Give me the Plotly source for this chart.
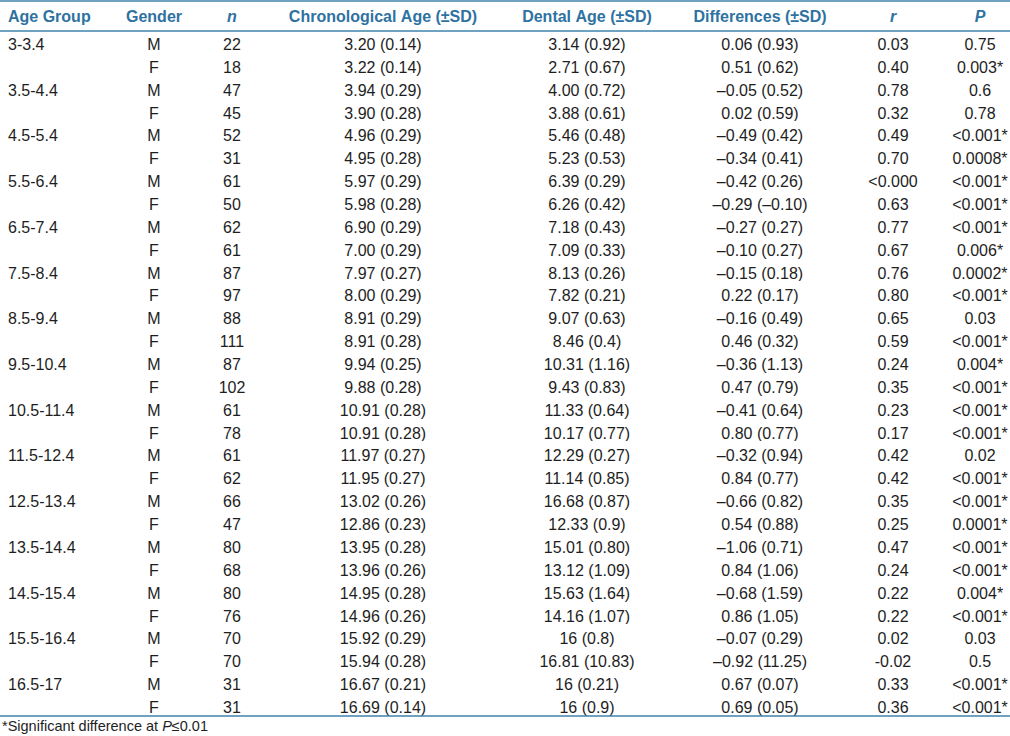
import plotly.graph_objects as go

headers = ["Age Group", "Gender", "n", "Chronological Age (±SD)", "Dental Age (±SD)",
           "Differences (±SD)", "r", "P"]
header_styles = ["normal", "normal", "italic", "normal", "normal", "normal", "italic", "italic"]

age_groups = ["3-3.4", "3.5-4.4", "4.5-5.4", "5.5-6.4", "6.5-7.4", "7.5-8.4", "8.5-9.4",
              "9.5-10.4", "10.5-11.4", "11.5-12.4", "12.5-13.4", "13.5-14.4", "14.5-15.4",
              "15.5-16.4", "16.5-17"]
genders = ["M", "F"]

n_vals = [22, 18, 47, 45, 52, 31, 61, 50, 62, 61, 87, 97, 88, 111, 87, 102, 61, 78, 61, 62,
          66, 47, 80, 68, 80, 76, 70, 70, 31, 31]

chrono_age = ["3.20 (0.14)", "3.22 (0.14)", "3.94 (0.29)", "3.90 (0.28)", "4.96 (0.29)",
              "4.95 (0.28)", "5.97 (0.29)", "5.98 (0.28)", "6.90 (0.29)", "7.00 (0.29)",
              "7.97 (0.27)", "8.00 (0.29)", "8.91 (0.29)", "8.91 (0.28)", "9.94 (0.25)",
              "9.88 (0.28)", "10.91 (0.28)", "10.91 (0.28)", "11.97 (0.27)", "11.95 (0.27)",
              "13.02 (0.26)", "12.86 (0.23)", "13.95 (0.28)", "13.96 (0.26)", "14.95 (0.28)",
              "14.96 (0.26)", "15.92 (0.29)", "15.94 (0.28)", "16.67 (0.21)", "16.69 (0.14)"]

dental_age = ["3.14 (0.92)", "2.71 (0.67)", "4.00 (0.72)", "3.88 (0.61)", "5.46 (0.48)",
              "5.23 (0.53)", "6.39 (0.29)", "6.26 (0.42)", "7.18 (0.43)", "7.09 (0.33)",
              "8.13 (0.26)", "7.82 (0.21)", "9.07 (0.63)", "8.46 (0.4)", "10.31 (1.16)",
              "9.43 (0.83)", "11.33 (0.64)", "10.17 (0.77)", "12.29 (0.27)", "11.14 (0.85)",
              "16.68 (0.87)", "12.33 (0.9)", "15.01 (0.80)", "13.12 (1.09)", "15.63 (1.64)",
              "14.16 (1.07)", "16 (0.8)", "16.81 (10.83)", "16 (0.21)", "16 (0.9)"]

differences = ["0.06 (0.93)", "0.51 (0.62)", "–0.05 (0.52)", "0.02 (0.59)", "–0.49 (0.42)",
               "–0.34 (0.41)", "–0.42 (0.26)", "–0.29 (–0.10)", "–0.27 (0.27)", "–0.10 (0.27)",
               "–0.15 (0.18)", "0.22 (0.17)", "–0.16 (0.49)", "0.46 (0.32)", "–0.36 (1.13)",
               "0.47 (0.79)", "–0.41 (0.64)", "0.80 (0.77)", "–0.32 (0.94)", "0.84 (0.77)",
               "–0.66 (0.82)", "0.54 (0.88)", "–1.06 (0.71)", "0.84 (1.06)", "–0.68 (1.59)",
               "0.86 (1.05)", "–0.07 (0.29)", "–0.92 (11.25)", "0.67 (0.07)", "0.69 (0.05)"]

r_vals = ["0.03", "0.40", "0.78", "0.32", "0.49", "0.70", "<0.000", "0.63", "0.77", "0.67",
          "0.76", "0.80", "0.65", "0.59", "0.24", "0.35", "0.23", "0.17", "0.42", "0.42",
          "0.35", "0.25", "0.47", "0.24", "0.22", "0.22", "0.02", "-0.02", "0.33", "0.36"]

p_vals = ["0.75", "0.003*", "0.6", "0.78", "<0.001*", "0.0008*", "<0.001*", "<0.001*",
          "<0.001*", "0.006*", "0.0002*", "<0.001*", "0.03", "<0.001*", "0.004*", "<0.001*",
          "<0.001*", "<0.001*", "0.02", "<0.001*", "<0.001*", "0.0001*", "<0.001*", "<0.001*",
          "0.004*", "<0.001*", "0.03", "0.5", "<0.001*", "<0.001*"]

footnote = "*Significant difference at <i>P</i>≤0.01"

NB = "\u00a0"


def fmt(s):
    return str(s).replace(" ", NB)


def split_lt(vals):
    # a leading "<" goes into the per-cell prefix so rows keep their fixed height
    pre, body = [], []
    for v in vals:
        if v.startswith("<"):
            pre.append("<")
            body.append(v[1:])
        else:
            pre.append("")
            body.append(v)
    return pre, body


col_age = []
col_gender = []
for g in age_groups:
    col_age += [g, NB]
    col_gender += genders

r_pre, r_body = split_lt(r_vals)
p_pre, p_body = split_lt(p_vals)
empty = [""] * len(n_vals)

columns = [col_age, col_gender, [fmt(v) for v in n_vals], [fmt(v) for v in chrono_age],
           [fmt(v) for v in dental_age], [fmt(v) for v in differences], r_body, p_body]
prefixes = [empty, empty, empty, empty, empty, empty, r_pre, p_pre]

W, H = 1010, 736
header_h = 28
row_h = 22.86
table_top = 2
table_bottom = table_top + header_h + row_h * len(n_vals)
lines_px = [1, 31, 716]

line_color = "#3f83ab"
head_color = "#2e72a2"
text_color = "#1e1e1e"
font_family = "Liberation Sans, Arial, sans-serif"

fig = go.Figure(go.Table(
    domain=dict(x=[0, 1], y=[max(0, 1 - (table_bottom + 3) / H), 1 - table_top / H]),
    columnwidth=[120, 68, 88, 214, 194, 152, 114, 60],
    header=dict(
        values=[h.replace(" ", NB) for h in headers],
        align=["left"] + ["center"] * 7,
        font=dict(family=font_family, size=16, color=head_color, weight="bold",
                  style=header_styles),
        fill_color="white",
        line=dict(width=0, color="white"),
        height=header_h,
    ),
    cells=dict(
        values=columns,
        align=["left"] + ["center"] * 7,
        font=dict(family=font_family, size=16, color=text_color),
        fill_color="white",
        line=dict(width=0, color="white"),
        height=row_h,
    ),
))
# per-cell (2D) prefix, passed straight to plotly.js
fig._data[0]["cells"]["prefix"] = prefixes

for ypx in lines_px:
    fig.add_shape(type="line", xref="paper", yref="paper", x0=0, x1=1,
                  y0=1 - ypx / H, y1=1 - ypx / H,
                  line=dict(color=line_color, width=1.5))

fig.add_annotation(text=footnote, xref="paper", yref="paper", x=0, y=1 - 726 / H,
                   xanchor="left", yanchor="middle", showarrow=False,
                   font=dict(family=font_family, size=14.5, color=text_color))

fig.update_layout(width=W, height=H, margin=dict(l=0, r=0, t=0, b=0),
                  paper_bgcolor="white", plot_bgcolor="white")

fig.write_html("out.html", config={"displayModeBar": False},
               post_script="document.body.style.margin='0';")
